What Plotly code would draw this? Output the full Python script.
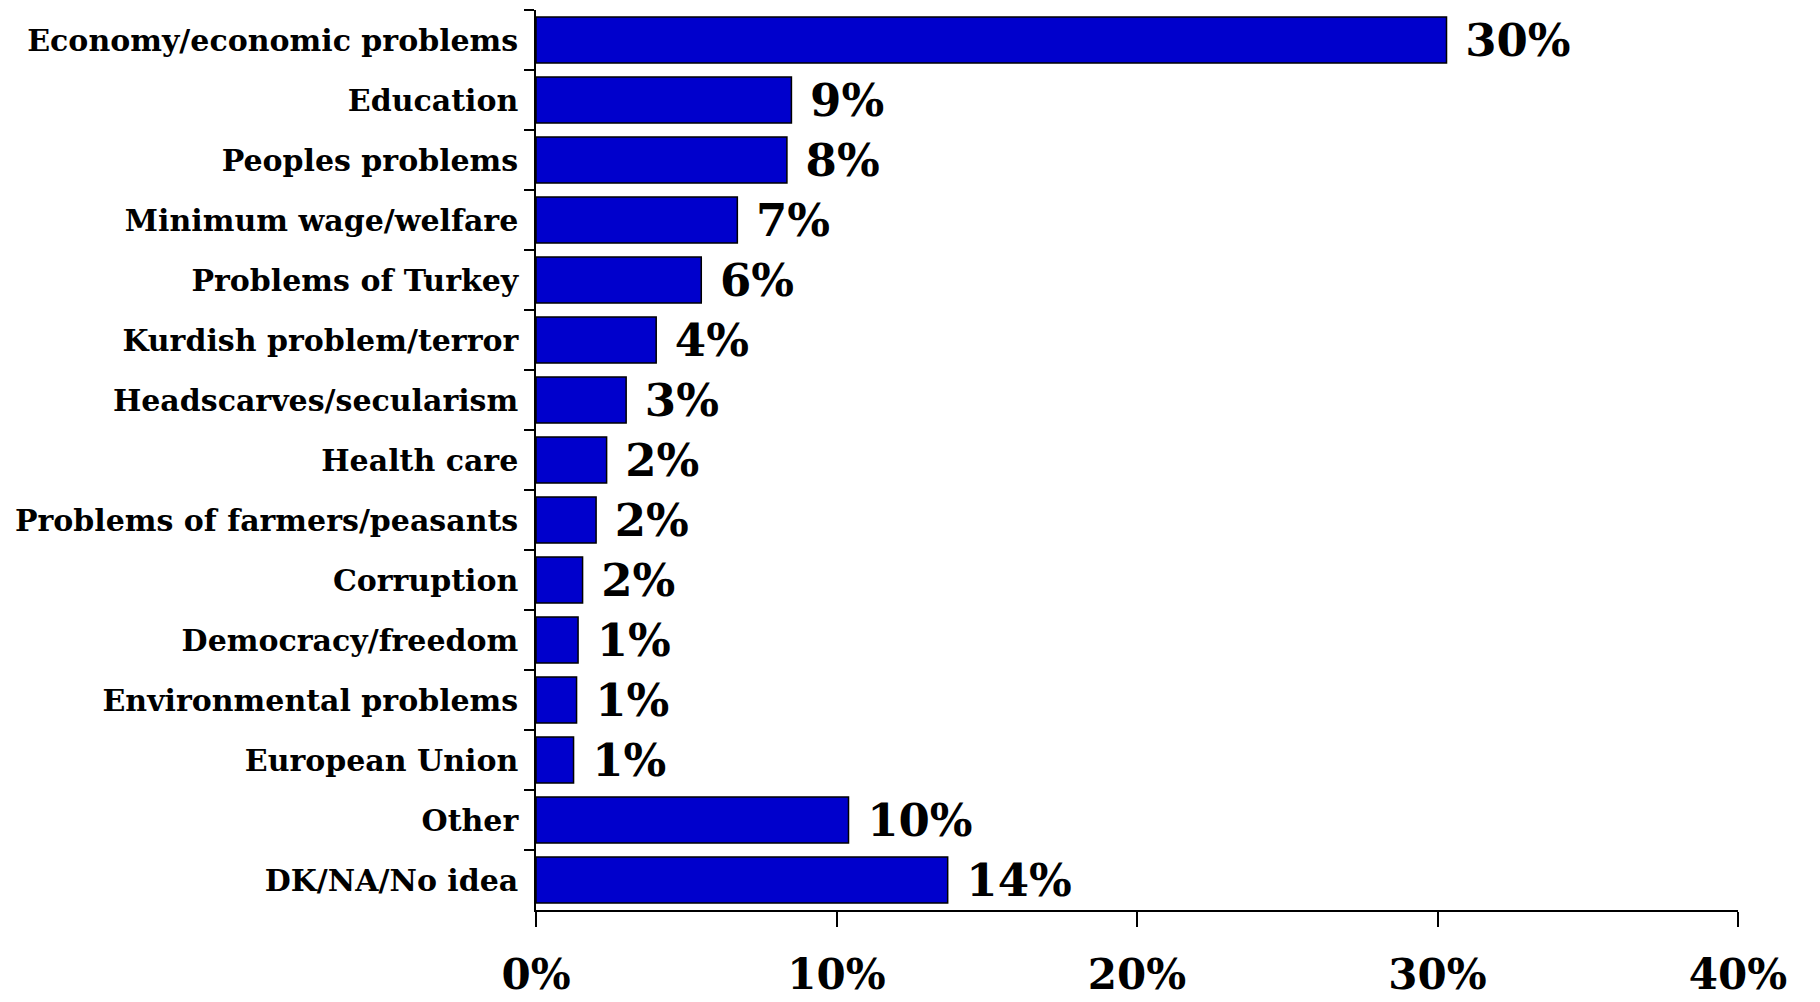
import plotly.graph_objects as go

categories = ["Economy/economic problems", "Education", "Peoples problems",
              "Minimum wage/welfare", "Problems of Turkey", "Kurdish problem/terror",
              "Headscarves/secularism", "Health care", "Problems of farmers/peasants",
              "Corruption", "Democracy/freedom", "Environmental problems",
              "European Union", "Other", "DK/NA/No idea"]
values = [30.3, 8.5, 8.35, 6.7, 5.5, 4.0, 3.0, 2.35, 2.0, 1.55, 1.4, 1.35, 1.25, 10.4, 13.7]
labels = ["30%", "9%", "8%", "7%", "6%", "4%", "3%", "2%", "2%", "2%", "1%", "1%", "1%", "10%", "14%"]
x_ticks = [0, 10, 20, 30, 40]
x_tick_text = ["0%", "10%", "20%", "30%", "40%"]

FONT = "DejaVu Serif"

fig = go.Figure(go.Bar(
    x=values, y=categories, orientation="h",
    marker=dict(color="#0000CC", line=dict(color="#000000", width=1.5)),
    text=["\u00a0" + t for t in labels], textposition="outside",
    constraintext="none", cliponaxis=False,
    textfont=dict(family=FONT, size=45, color="#000000", weight="bold"),
    hoverinfo="skip"))

# page body has an 8px margin, so the figure is a bit smaller than the window
fig.update_layout(
    width=1812, height=994,
    margin=dict(l=528, r=82, t=2, b=92),
    paper_bgcolor="white", plot_bgcolor="white",
    bargap=0.23, showlegend=False,
    xaxis=dict(range=[0, 40], tickvals=x_ticks, ticktext=x_tick_text,
               showgrid=False, zeroline=False, automargin=False,
               showline=True, linecolor="#000000", linewidth=1.5,
               ticks="outside", ticklen=15, tickwidth=1.5, tickcolor="#000000",
               ticklabelstandoff=12,
               tickfont=dict(family=FONT, size=42, color="#000000", weight="bold")),
    yaxis=dict(autorange="reversed", showgrid=False, zeroline=False, automargin=False,
               showline=True, linecolor="#000000", linewidth=1.5,
               ticks="outside", ticklen=10, tickwidth=1.5, tickcolor="#000000",
               tickson="boundaries", ticklabelstandoff=10,
               tickfont=dict(family=FONT, size=30, color="#000000", weight="bold")),
)

fig.write_html("out.html")
